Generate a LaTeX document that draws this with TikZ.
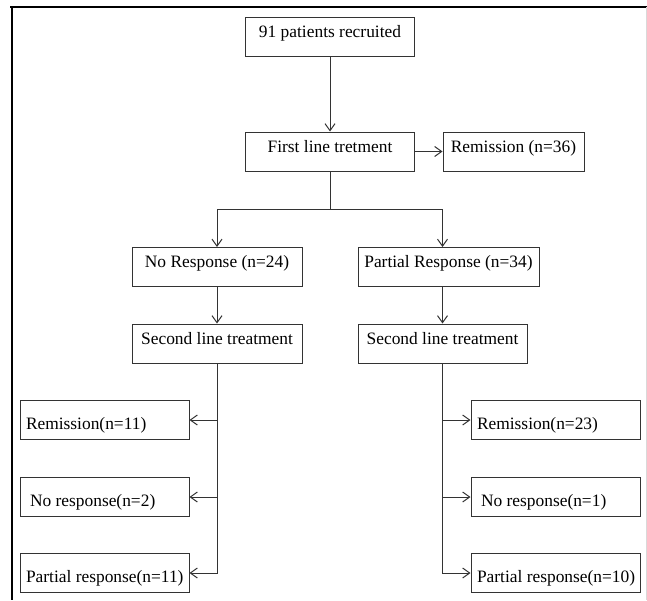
\documentclass[tikz,border=0pt]{standalone}
\usepackage{fontspec}
\setmainfont{Liberation Serif}
\usetikzlibrary{arrows.meta}
\newcommand\outtext[1]{\makebox[157pt][l]{#1}}
\tikzset{
  box/.style = {draw = black!80, line width = 1pt, inner sep = 0pt, minimum height = 39pt, text height = 12pt, text depth = 11pt, font = \fontsize{17.4}{20}\selectfont},
  outcome/.style = {box, minimum width = 169pt, text height = 18pt, text depth = 0pt},
  link/.style = {draw = black!80, line width = 1pt, -{Straight Barb[length=7pt,width=10pt]}}
}
\begin{document}
\begin{tikzpicture}[x = 1pt, y = -1pt]
\useasboundingbox (0,0) rectangle (647,600);
\draw[line width = 2pt] (10,7) -- (647,7);
\draw[line width = 2.3pt] (12,7) -- (12,600);
\draw[black!15, line width = 1pt] (646,7) -- (646,600);
\node[box, minimum width = 169pt] (recruit) at (330,36.5) {91 patients recruited};
\node[box, minimum width = 169pt] (first) at (330,151.5) {First line tretment};
\node[box, minimum width = 141pt] (remission) at (513.5,151.5) {Remission (n=36)};
\node[box, minimum width = 170pt] (noresp) at (217,267) {No Response (n=24)};
\node[box, minimum width = 181pt] (partresp) at (448.5,267) {Partial Response (n=34)};
\node[box, minimum width = 170pt] (secondL) at (217,343.5) {Second line treatment};
\node[box, minimum width = 169pt] (secondR) at (442.5,343.5) {Second line treatment};
\coordinate (split) at (330,209);
\draw[link] (recruit) -- (first);
\draw[link] (first) -- (remission);
\draw[link] (first) -- (split) -| (noresp);
\draw[link] (split) -| (partresp.north -| secondR.north);
\draw[link] (noresp) -- (secondL);
\draw[link] (partresp.south -| secondR.north) -- (secondR);
\foreach \n/\y/\a/\b in {1/420/Remission(n=11)/Remission(n=23), 2/497/\hspace{4pt}No response(n=2)/\hspace{4pt}No response(n=1), 3/573/Partial response(n=11)/Partial response(n=10)} {
  \node[outcome] (outL\n) at (104.5,\y) {\outtext{\a}};
  \node[outcome] (outR\n) at (555.5,\y) {\outtext{\b}};
  \draw[link] (secondL) |- (outL\n);
  \draw[link] (secondR) |- (outR\n);
}
\end{tikzpicture}
\end{document}
